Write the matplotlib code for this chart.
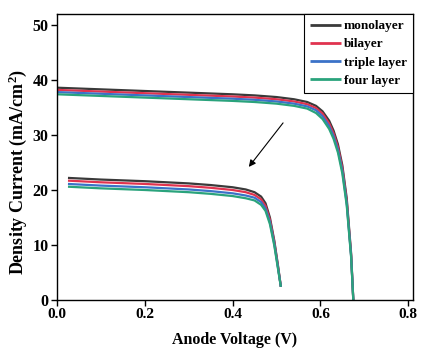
import matplotlib
matplotlib.use("Agg")
import matplotlib.pyplot as plt

# ---- data ----
labels = ["monolayer", "bilayer", "triple layer", "four layer"]
colors = ["#3a3a3a", "#e0334f", "#3b72c8", "#2aa37c"]

# upper set of J-V curves
v_hi = [0.0, 0.1, 0.2, 0.3, 0.4, 0.45, 0.5, 0.54, 0.57, 0.59, 0.605, 0.62, 0.63, 0.64, 0.65, 0.66, 0.67, 0.675]
j_hi_mono   = [38.6, 38.3, 38.0, 37.7, 37.4, 37.2, 36.9, 36.5, 36.0, 35.3, 34.3, 32.6, 30.8, 28.3, 24.5, 18.5, 8.5, 0.0]
j_hi_bi     = [38.2, 37.9, 37.6, 37.3, 37.0, 36.8, 36.5, 36.1, 35.6, 34.9, 33.9, 32.1, 30.3, 27.8, 24.0, 18.0, 8.2, 0.0]
j_hi_triple = [37.8, 37.5, 37.2, 36.9, 36.6, 36.4, 36.1, 35.7, 35.2, 34.5, 33.4, 31.6, 29.8, 27.3, 23.5, 17.6, 8.0, 0.0]
j_hi_four   = [37.4, 37.1, 36.8, 36.5, 36.2, 36.0, 35.7, 35.3, 34.8, 34.0, 32.9, 31.1, 29.3, 26.8, 23.0, 17.2, 7.8, 0.0]

# lower set of J-V curves
v_lo = [0.025, 0.1, 0.2, 0.3, 0.35, 0.4, 0.43, 0.45, 0.465, 0.475, 0.485, 0.495, 0.503, 0.51]
j_lo_mono   = [22.2, 21.9, 21.6, 21.2, 20.9, 20.5, 20.1, 19.6, 18.8, 17.6, 15.0, 10.8, 6.5, 2.4]
j_lo_bi     = [21.7, 21.4, 21.1, 20.7, 20.4, 20.0, 19.6, 19.1, 18.3, 17.1, 14.6, 10.5, 6.3, 2.4]
j_lo_triple = [21.1, 20.8, 20.5, 20.1, 19.8, 19.4, 19.0, 18.6, 17.8, 16.6, 14.2, 10.2, 6.1, 2.4]
j_lo_four   = [20.6, 20.3, 20.0, 19.6, 19.3, 18.9, 18.5, 18.1, 17.3, 16.2, 13.8, 9.9, 5.9, 2.4]

hi_sets = [j_hi_mono, j_hi_bi, j_hi_triple, j_hi_four]
lo_sets = [j_lo_mono, j_lo_bi, j_lo_triple, j_lo_four]

x_ticks = [0.0, 0.2, 0.4, 0.6, 0.8]
y_ticks = [0, 10, 20, 30, 40, 50]

arrow_start = (0.515, 32.2)
arrow_end = (0.437, 24.2)

# ---- figure ----
plt.rcParams["font.family"] = ["Liberation Serif", "DejaVu Serif"]
plt.rcParams["font.weight"] = "bold"
plt.rcParams["mathtext.fontset"] = "custom"
plt.rcParams["mathtext.rm"] = "Liberation Serif:bold"
plt.rcParams["mathtext.default"] = "rm"

fig = plt.figure(figsize=(4.21, 3.51), dpi=100)
ax = fig.add_axes([57/421, 1 - 300/351, (413 - 57)/421, (300 - 14)/351])

for lab, col, jh, jl in zip(labels, colors, hi_sets, lo_sets):
    ax.plot(v_hi, jh, color=col, lw=1.6, label=lab, solid_capstyle="butt")
    ax.plot(v_lo, jl, color=col, lw=1.6, solid_capstyle="butt")

ax.annotate("", xy=arrow_end, xytext=arrow_start,
            arrowprops=dict(arrowstyle="-|>", color="black", lw=0.8,
                            mutation_scale=10, shrinkA=0, shrinkB=0))

ax.set_xlim(0, 0.811)
ax.set_ylim(0, 52)
ax.set_xticks(x_ticks)
ax.set_xticklabels([f"{t:.1f}" for t in x_ticks])
ax.set_yticks(y_ticks)
ax.tick_params(axis="both", direction="out", length=4, width=1, labelsize=11, pad=2)
ax.tick_params(axis="y", labelsize=11.5)
for lbl in ax.get_xticklabels() + ax.get_yticklabels():
    lbl.set_fontweight("bold")
for s in ax.spines.values():
    s.set_linewidth(1.0)

ax.set_xlabel("Anode Voltage (V)", fontsize=11.5, fontweight="bold", labelpad=8)
ax.set_ylabel("Density Current (mA/cm$^2$)", fontsize=13, fontweight="bold")
ax.yaxis.set_label_coords(-0.08, 0.448)

leg = ax.legend(loc="upper right", borderaxespad=0, frameon=True, fancybox=False,
                edgecolor="black", framealpha=1, fontsize=9.5, handlelength=2.4,
                handletextpad=0.2, borderpad=0.45, labelspacing=0.45)
leg.get_frame().set_linewidth(0.8)
for t in leg.get_texts():
    t.set_fontweight("bold")
for h in leg.get_lines():
    h.set_linewidth(2.0)

fig.savefig("out.png", dpi=100)
